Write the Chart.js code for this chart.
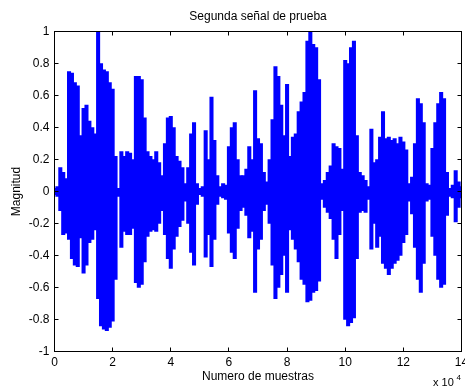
<!DOCTYPE html>
<html>
<head>
<meta charset="utf-8">
<script src="https://cdn.jsdelivr.net/npm/chart.js@4/dist/chart.umd.min.js"></script>
<style>
  html, body { margin: 0; padding: 0; background: #fff; }
  #wrap { width: 465px; height: 388px; }
</style>
</head>
<body>
<div id="wrap"><canvas id="c" width="465" height="388"></canvas></div>
<script>
// Waveform envelope, one bin per 1000 samples (x axis is in units of 10^4 samples)
const BIN_WIDTH = 0.1;

// Highest sample value in each bin
const upperEnv = [
  0.02, 0.03, 0.15, 0.12, 0.08, 0.75, 0.74, 0.68, 0.66, 0.35,
  0.52, 0.54, 0.44, 0.40, 0.36, 1.00, 0.80, 0.76, 0.75, 0.68,
  0.64, 0.22, 0.02, 0.25, 0.22, 0.25, 0.24, 0.20, 0.72, 0.72,
  0.70, 0.46, 0.25, 0.22, 0.20, 0.25, 0.18, 0.10, 0.30, 0.46,
  0.47, 0.40, 0.22, 0.19, 0.15, 0.05, 0.15, 0.36, 0.43, 0.05,
  0.02, 0.03, 0.38, 0.20, 0.59, 0.32, 0.10, 0.03, 0.05, 0.04,
  0.28, 0.40, 0.43, 0.20, 0.10, 0.10, 0.14, 0.28, 0.20, 0.63,
  0.33, 0.30, 0.12, 0.06, 0.20, 0.45, 0.78, 0.72, 0.54, 0.35,
  0.67, 0.22, 0.34, 0.36, 0.50, 0.56, 0.62, 0.94, 1.00, 0.92,
  0.90, 0.70, 0.05, 0.07, 0.12, 0.16, 0.30, 0.28, 0.27, 0.14,
  0.82, 0.80, 0.90, 0.94, 0.35, 0.12, 0.10, 0.07, 0.03, 0.39,
  0.18, 0.20, 0.34, 0.50, 0.33, 0.34, 0.32, 0.33, 0.30, 0.34,
  0.31, 0.26, 0.05, 0.09, 0.30, 0.58, 0.55, 0.43, 0.05, 0.04,
  0.27, 0.43, 0.55, 0.62, 0.58, 0.12, 0.02, 0.04, 0.13, 0.06,
  0.03
];

// Lowest sample value in each bin
const lowerEnv = [
  -0.02, -0.03, -0.12, -0.27, -0.26, -0.30, -0.42, -0.46, -0.47, -0.29,
  -0.51, -0.46, -0.32, -0.30, -0.24, -0.67, -0.84, -0.86, -0.87, -0.85,
  -0.81, -0.55, -0.03, -0.35, -0.25, -0.27, -0.27, -0.23, -0.57, -0.60,
  -0.58, -0.44, -0.28, -0.25, -0.24, -0.25, -0.20, -0.12, -0.27, -0.42,
  -0.48, -0.36, -0.28, -0.22, -0.18, -0.06, -0.20, -0.38, -0.46, -0.08,
  -0.02, -0.03, -0.41, -0.27, -0.47, -0.30, -0.08, -0.03, -0.04, -0.05,
  -0.26, -0.38, -0.42, -0.23, -0.12, -0.10, -0.15, -0.29, -0.25, -0.63,
  -0.36, -0.30, -0.12, -0.08, -0.20, -0.46, -0.67, -0.60, -0.52, -0.40,
  -0.63, -0.24, -0.30, -0.36, -0.44, -0.55, -0.58, -0.69, -0.68, -0.63,
  -0.62, -0.56, -0.05, -0.10, -0.13, -0.17, -0.30, -0.42, -0.27, -0.12,
  -0.80, -0.84, -0.82, -0.79, -0.42, -0.13, -0.12, -0.13, -0.05, -0.36,
  -0.20, -0.35, -0.28, -0.45, -0.48, -0.52, -0.48, -0.45, -0.43, -0.40,
  -0.32, -0.27, -0.06, -0.14, -0.35, -0.55, -0.63, -0.45, -0.06, -0.05,
  -0.28, -0.40, -0.55, -0.60, -0.58, -0.15, -0.03, -0.04, -0.19, -0.10,
  -0.04
];

const xTickValues = [0, 2, 4, 6, 8, 10, 12, 14];
const xTickLabels = ['0', '2', '4', '6', '8', '10', '12', '14'];
const yTickValues = [-1, -0.8, -0.6, -0.4, -0.2, 0, 0.2, 0.4, 0.6, 0.8, 1];
const yTickLabels = ['-1', '-0.8', '-0.6', '-0.4', '-0.2', '0', '0.2', '0.4', '0.6', '0.8', '1'];

const FONT = '"Liberation Sans", Arial, Helvetica, sans-serif';
Chart.defaults.font.family = FONT;
Chart.defaults.font.size = 12;
Chart.defaults.color = '#000';

const points = upperEnv.map((hi, i) => ({ x: i * BIN_WIDTH, y: [lowerEnv[i], hi] }));

// Box around the axes with inward tick marks on all four sides, plus the x-axis exponent
const axesFrame = {
  id: 'axesFrame',
  afterDraw(chart) {
    const { ctx, chartArea: a, scales: { x, y } } = chart;
    const L = 4;
    ctx.save();
    ctx.strokeStyle = '#000';
    ctx.lineWidth = 1;
    ctx.strokeRect(a.left, a.top, a.right - a.left, a.bottom - a.top);
    ctx.beginPath();
    xTickValues.forEach(v => {
      const px = Math.floor(x.getPixelForValue(v)) + 0.5;
      ctx.moveTo(px, a.bottom); ctx.lineTo(px, a.bottom - L);
      ctx.moveTo(px, a.top); ctx.lineTo(px, a.top + L);
    });
    yTickValues.forEach(v => {
      const py = Math.floor(y.getPixelForValue(v)) + 0.5;
      ctx.moveTo(a.left, py); ctx.lineTo(a.left + L, py);
      ctx.moveTo(a.right, py); ctx.lineTo(a.right - L, py);
    });
    ctx.stroke();
    ctx.fillStyle = '#000';
    ctx.textAlign = 'left';
    ctx.textBaseline = 'alphabetic';
    ctx.font = '11px ' + FONT;
    ctx.fillText('x 10', 433, 386);
    ctx.font = '8px ' + FONT;
    ctx.fillText('4', 456.5, 380);
    ctx.restore();
  }
};

new Chart(document.getElementById('c'), {
  type: 'bar',
  data: {
    datasets: [{
      data: points,
      backgroundColor: '#0000ff',
      borderWidth: 0,
      barThickness: 3.4
    }]
  },
  options: {
    responsive: false,
    animation: false,
    devicePixelRatio: 1,
    layout: { padding: { left: 0, right: 3.5, top: 0, bottom: 0 } },
    plugins: {
      legend: { display: false },
      tooltip: { enabled: false },
      title: {
        display: true,
        text: 'Segunda señal de prueba',
        fullSize: false,
        font: { size: 12, weight: 'normal' },
        color: '#000',
        padding: { top: 9.1, bottom: 8.0 }
      }
    },
    scales: {
      x: {
        type: 'linear',
        min: 0,
        max: 14,
        offset: false,
        grid: { display: false, drawTicks: false, tickLength: 0, offset: false },
        border: { display: false },
        afterBuildTicks: s => { s.ticks = xTickValues.map(v => ({ value: v })); },
        ticks: {
          padding: 4,
          maxRotation: 0,
          autoSkip: false,
          callback: (v) => xTickLabels[xTickValues.indexOf(v)]
        },
        title: {
          display: true,
          text: 'Numero de muestras',
          font: { size: 12 },
          padding: { top: 0, bottom: 3.8 }
        },
        afterFit: s => { s.height = 36.5; s.paddingLeft = 0; s.paddingRight = 0; }
      },
      y: {
        min: -1,
        max: 1,
        grid: { display: false, drawTicks: false, tickLength: 0 },
        border: { display: false },
        afterBuildTicks: s => { s.ticks = yTickValues.map(v => ({ value: v })); },
        ticks: {
          padding: 5,
          autoSkip: false,
          callback: (v) => yTickLabels[yTickValues.indexOf(v)]
        },
        title: {
          display: true,
          text: 'Magnitud',
          font: { size: 12 },
          padding: { top: 9.8, bottom: 0 }
        },
        afterFit: s => { s.width = 54.5; s.paddingTop = 0; s.paddingBottom = 0; }
      }
    }
  },
  plugins: [axesFrame]
});
</script>
</body>
</html>
